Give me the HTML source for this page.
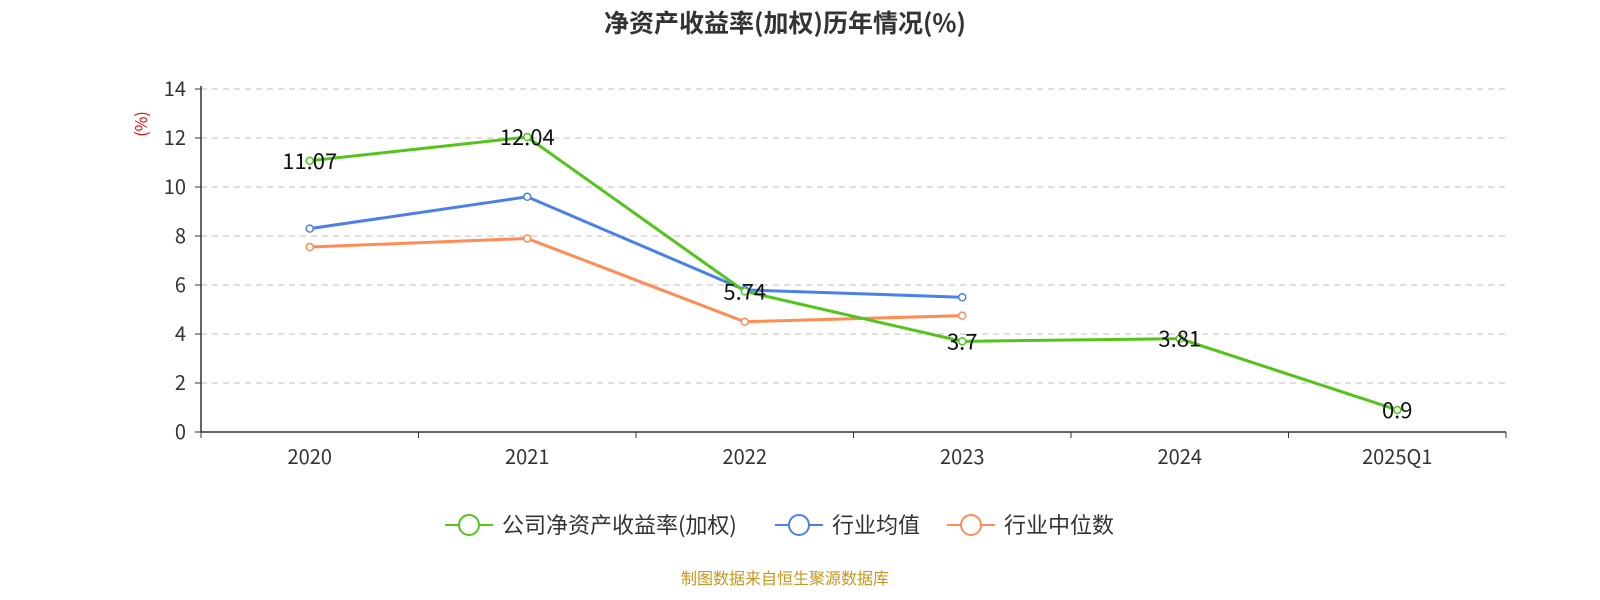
<!DOCTYPE html>
<html><head><meta charset="utf-8">
<style>
html,body{margin:0;padding:0;background:#fff;}
svg{display:block;font-family:"Noto Sans CJK SC","Liberation Sans",sans-serif;}
</style></head>
<body>
<svg id="chart" width="1600" height="600" viewBox="0 0 1600 600">
<text x="785" y="32" text-anchor="middle" font-size="25" font-weight="bold" fill="#333">净资产收益率(加权)历年情况(%)</text>
<text x="147" y="124" font-size="16" fill="#e00" transform="rotate(-90 147 124)" text-anchor="middle">(%)</text>
<g id="grid"></g><g id="axes"></g><g id="series"></g>
<g>
<g>
<line x1="445" y1="525" x2="493" y2="525" stroke="#52c41a" stroke-width="2"/><circle cx="469" cy="525" r="10" fill="#fff" stroke="#52c41a" stroke-width="2"/>
<text x="502" y="533" font-size="22" fill="#333">公司净资产收益率(加权)</text></g>
<g>
<line x1="775" y1="525" x2="823" y2="525" stroke="#4a80e8" stroke-width="2"/><circle cx="799" cy="525" r="10" fill="#fff" stroke="#4a80e8" stroke-width="2"/>
<text x="832" y="533" font-size="22" fill="#333">行业均值</text></g>
<g>
<line x1="947" y1="525" x2="995" y2="525" stroke="#ff8c55" stroke-width="2"/><circle cx="971" cy="525" r="10" fill="#fff" stroke="#ff8c55" stroke-width="2"/>
<text x="1004" y="533" font-size="22" fill="#333">行业中位数</text></g>
</g>
<text x="785" y="584" text-anchor="middle" font-size="16" fill="#c8961e">制图数据来自恒生聚源数据库</text>
</svg>
<script>
const categories=["2020","2021","2022","2023","2024","2025Q1"];
const companyValues=[11.07,12.04,5.74,3.7,3.81,0.9];
const industryAvg=[8.3,9.6,5.8,5.5];
const industryMedian=[7.55,7.9,4.5,4.75];
const yTicks=[0,2,4,6,8,10,12,14];
const NS="http://www.w3.org/2000/svg";
const x0=201,x1=1506,y0=432,y1=89,yMax=14;
const bw=(x1-x0)/categories.length;
const xs=i=>x0+bw*(i+0.5);
const ys=v=>y0-(v/yMax)*(y0-y1);
function mk(tag,attrs,parent){const e=document.createElementNS(NS,tag);for(const k in attrs)e.setAttribute(k,attrs[k]);parent.appendChild(e);return e;}
const grid=document.getElementById('grid'),axes=document.getElementById('axes'),ser=document.getElementById('series');
yTicks.forEach(t=>{
  const y=ys(t);
  if(t>0){const g=mk('line',{x1:x0,x2:x1,y1:y,y2:y,stroke:'#ccc','stroke-dasharray':'6,5','stroke-width':1.3},grid);
  
  }
  const l=mk('text',{x:186,y:y+7,'text-anchor':'end','font-size':20,fill:'#333'},axes);l.textContent=t;
  
  
  mk('line',{x1:195,x2:201,y1:y,y2:y,stroke:'#333'},axes);
});
const ya=mk('line',{x1:x0,x2:x0,y1:y1-3,y2:y0,stroke:'#333','stroke-width':1.5},axes);


const xa=mk('line',{x1:x0,x2:x1,y1:y0,y2:y0,stroke:'#333','stroke-width':1.5},axes);


for(let i=0;i<=categories.length;i++)mk('line',{x1:x0+bw*i,x2:x0+bw*i,y1:y0,y2:y0+6,stroke:'#333'},axes);
categories.forEach((c,i)=>{const t=mk('text',{x:xs(i),y:464,'text-anchor':'middle','font-size':20,fill:'#333'},axes);t.textContent=c;

});
function drawSeries(vals,color,name,labels){
  const pts=vals.map((v,i)=>xs(i)+','+ys(v)).join(' ');
  const p=mk('polyline',{points:pts,fill:'none',stroke:color,'stroke-width':3},ser);
  
  
  vals.forEach((v,i)=>{const c=mk('circle',{cx:xs(i),cy:ys(v),r:3.5,fill:'#fff',stroke:color,'stroke-width':1.5},ser);
  
  
  if(labels){const t=mk('text',{x:xs(i),y:ys(v)+8,'text-anchor':'middle','font-size':22,fill:'#111'},ser);t.textContent=v;
  
  }});
}
drawSeries(industryMedian,'#ff8c55','industry-median',false);
drawSeries(industryAvg,'#4a80e8','industry-avg',false);
drawSeries(companyValues,'#52c41a','company-roe',true);
</script>
</body></html>
